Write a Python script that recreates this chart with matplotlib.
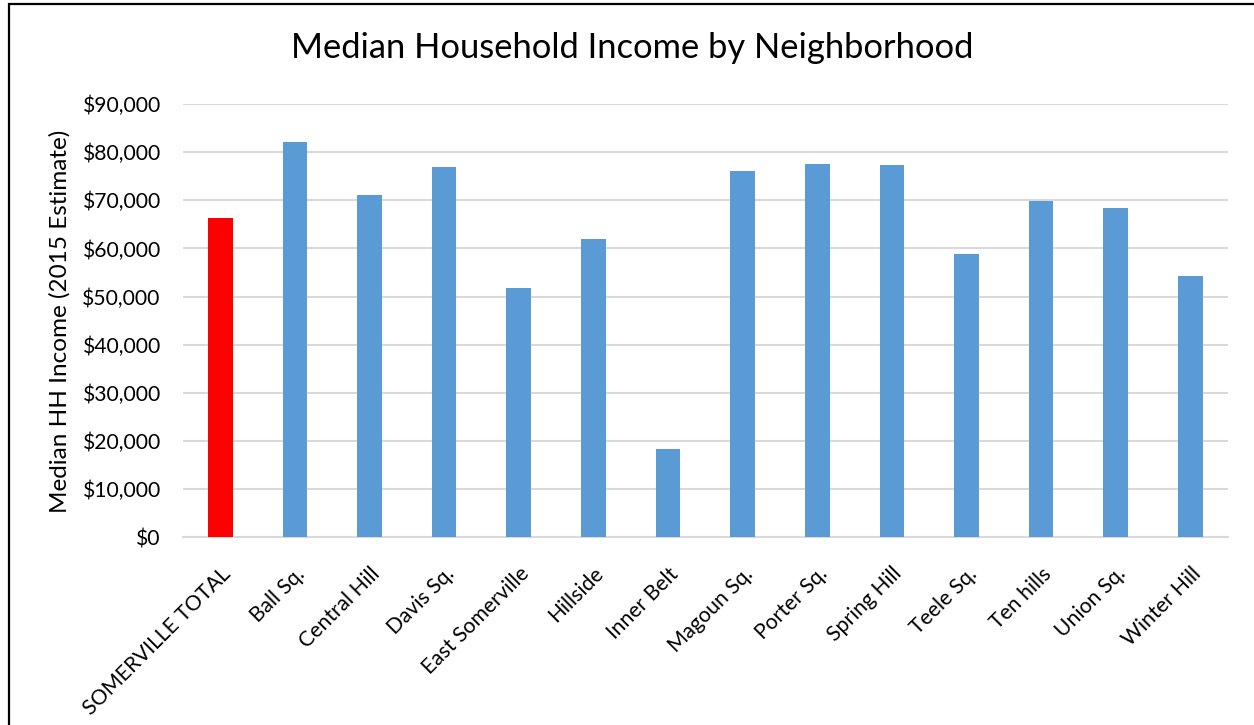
import matplotlib
matplotlib.use("Agg")
import matplotlib.pyplot as plt
from matplotlib.patches import Rectangle
from matplotlib.ticker import FuncFormatter, MultipleLocator

categories = ["SOMERVILLE TOTAL", "Ball Sq.", "Central Hill", "Davis Sq.", "East Somerville",
              "Hillside", "Inner Belt", "Magoun Sq.", "Porter Sq.", "Spring Hill",
              "Teele Sq.", "Ten hills", "Union Sq.", "Winter Hill"]
values = [66400, 82200, 71000, 76900, 51800, 62000, 18300, 76000, 77500, 77400,
          58800, 69800, 68500, 54200]
colors = ["#FF0000"] + ["#5B9BD5"] * 13

plt.rcParams['font.family'] = ['Lato', 'DejaVu Sans']

W, H = 1254, 725
fig = plt.figure(figsize=(W / 100, H / 100), dpi=100)
ax = fig.add_axes([183 / W, 1 - 537.3 / H, (1227.7 - 183) / W, (537.3 - 104) / H])

x = list(range(len(categories)))
ax.bar(x, values, width=0.33, color=colors, zorder=3)
ax.set_xlim(-0.5, len(categories) - 0.5)
ax.set_ylim(0, 90000)
ax.yaxis.set_major_locator(MultipleLocator(10000))
ax.yaxis.set_major_formatter(FuncFormatter(lambda v, p: f"${v:,.0f}"))
ax.grid(axis='y', color='#d9d9d9', linewidth=1.5, zorder=0)
for s in ['top', 'right', 'left']:
    ax.spines[s].set_visible(False)
ax.spines['bottom'].set_color('#d9d9d9')
ax.spines['bottom'].set_linewidth(1.5)
ax.tick_params(axis='y', length=0, labelsize=15.2, pad=16)
ax.set_xticks(x)
ax.set_xticklabels(categories, rotation=45, ha='right', rotation_mode='anchor')
ax.tick_params(axis='x', length=0, labelsize=15.2, pad=19)

fig.text(60 / W, 1 - 321 / H, "Median HH Income (2015 Estimate)", rotation=90,
         ha='center', va='center', fontsize=17.5)

fig.text(632.5 / W, 1 - 48 / H, "Median Household Income by Neighborhood",
         ha='center', va='center', fontsize=24.8)

# outer frame
fig.patches.append(Rectangle((8.5 / W, -0.1), 1.2, (1 - 4.5 / H) + 0.1,
                             transform=fig.transFigure, fill=False,
                             edgecolor='black', linewidth=1.6, zorder=10))

fig.savefig("out.png", dpi=100)
